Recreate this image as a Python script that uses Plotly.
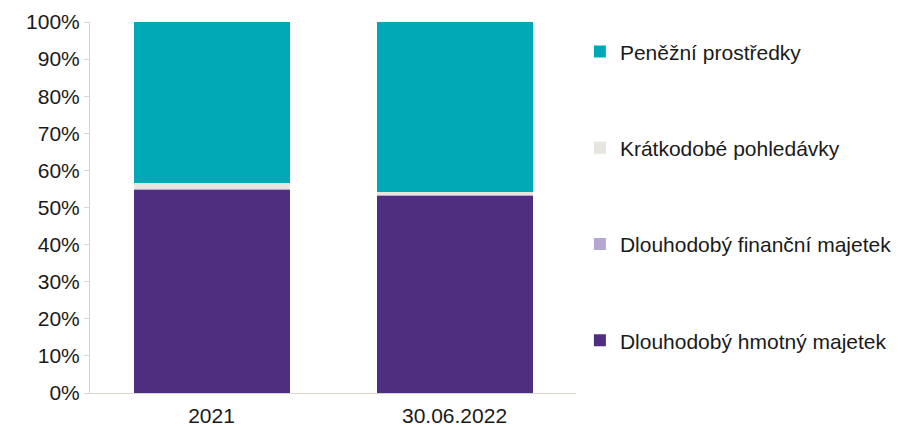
import plotly.graph_objects as go

categories = ["2021", "30.06.2022"]
hmotny = [54.9, 53.2]
financni = [0.1, 0.1]
kratkodobe = [1.7, 0.9]
penezni = [43.3, 45.8]

series = [
    ("Dlouhodobý hmotný majetek", hmotny, "#4F2D7F", 4),
    ("Dlouhodobý finanční majetek", financni, "#B4A7D0", 3),
    ("Krátkodobé pohledávky", kratkodobe, "#E8E4DE", 2),
    ("Peněžní prostředky", penezni, "#00A9B5", 1),
]

fig = go.Figure()
for i, (name, vals, col, rank) in enumerate(series):
    fig.add_trace(go.Bar(x=categories, y=vals, name=name, marker_color=col,
                         marker_line_width=0, legendgroup=f"g{rank}",
                         legendrank=rank))

axis_col = "#D9D4CC"
fig.update_layout(
    barmode="stack",
    bargap=0.358,
    width=899, height=427,
    margin=dict(l=90, r=323, t=22, b=34, autoexpand=False),
    paper_bgcolor="white", plot_bgcolor="white",
    font=dict(family="Liberation Sans, Arial, sans-serif", size=21, color="#1a1a1a"),
    legend=dict(traceorder="grouped", tracegroupgap=66,
                x=1.008, xanchor="left", y=0.975, yanchor="top",
                font=dict(size=21), itemwidth=30),
    showlegend=True,
)
fig.update_yaxes(range=[0, 100], tickvals=list(range(0, 101, 10)),
                 ticktext=[f"{v}%" for v in range(0, 101, 10)],
                 showgrid=False, showline=True, linecolor=axis_col, linewidth=1,
                 ticks="outside", tickcolor=axis_col, ticklen=5, zeroline=False,
                 automargin=False)
fig.update_xaxes(showline=True, linecolor=axis_col, linewidth=1, ticks="",
                 showgrid=False, automargin=False, ticklabelstandoff=4)

fig.write_html("out.html", config={"displayModeBar": False},
               post_script="document.body.style.margin='0';")
